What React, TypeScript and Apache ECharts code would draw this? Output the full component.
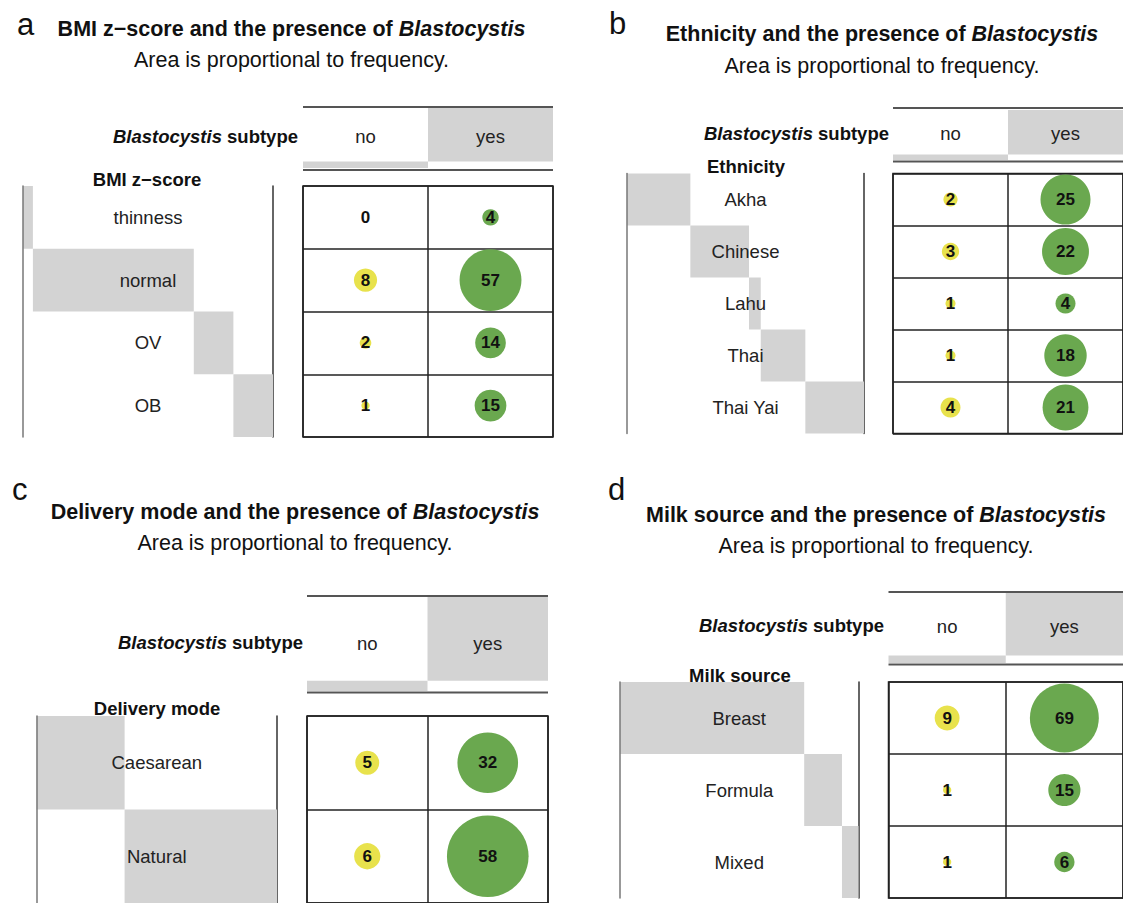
import React, { useEffect, useRef } from "react";
import * as echarts from "echarts";

// ---------------- data ----------------
const COLS = ["no", "yes"];

const bmiRows = ["thinness", "normal", "OV", "OB"];
const bmiNo = [0, 8, 2, 1];
const bmiYes = [4, 57, 14, 15];

const ethRows = ["Akha", "Chinese", "Lahu", "Thai", "Thai Yai"];
const ethNo = [2, 3, 1, 1, 4];
const ethYes = [25, 22, 4, 18, 21];

const delRows = ["Caesarean", "Natural"];
const delNo = [5, 6];
const delYes = [32, 58];

const milkRows = ["Breast", "Formula", "Mixed"];
const milkNo = [9, 1, 1];
const milkYes = [69, 15, 6];

const panelLetters = ["a", "b", "c", "d"];
const rowTitles = ["BMI z\u2212score", "Ethnicity", "Delivery mode", "Milk source"];
const TITLE_TAIL = " and the presence of ";
const ORGANISM = "Blastocystis";
const COL_TITLE_TAIL = " subtype";
const SUBTITLE = "Area is proportional to frequency.";

const PANELS = [
  { rows: bmiRows, no: bmiNo, yes: bmiYes },
  { rows: ethRows, no: ethNo, yes: ethYes },
  { rows: delRows, no: delNo, yes: delYes },
  { rows: milkRows, no: milkNo, yes: milkYes },
];

// ---------------- layout / style ----------------
const FONT = '"Liberation Sans", Arial, Helvetica, sans-serif';
const GRAY = "#d3d3d3";
const YELLOW = "#e8e24c";
const GREEN = "#6aa84f";
const LINE = "#222";

const LAYOUT = [
  {
    letter: [17, 24], title: [291.5, 28.5], sub: 60,
    head: { x0: 303, x1: 553, line0: 107, top: 108, bottom: 168, line1: 170, labelY: 136.5, keyX: 298, keyY: 136 },
    rowTitle: [147, 179.5], rowX: [23, 273], table: { y0: 186, y1: 437 }, k: 4.1,
  },
  {
    letter: [609, 23], title: [882, 34], sub: 66,
    head: { x0: 893, x1: 1132, line0: 108, top: 110, bottom: 160, line1: 161.5, labelY: 133, keyX: 889, keyY: 133 },
    rowTitle: [746, 166], rowX: [627, 864], table: { y0: 173.5, y1: 433.5 }, k: 5.0,
  },
  {
    letter: [12, 489], title: [295, 511.5], sub: 543,
    head: { x0: 307, x1: 548, line0: 596, top: 597, bottom: 691, line1: 692.5, labelY: 643, keyX: 303, keyY: 642.5 },
    rowTitle: [157, 708.5], rowX: [36.5, 277], table: { y0: 716, y1: 907 }, k: 5.36,
  },
  {
    letter: [608, 489], title: [876, 514.5], sub: 546,
    head: { x0: 888.5, x1: 1126.5, line0: 592, top: 593, bottom: 663, line1: 664.5, labelY: 626, keyX: 884, keyY: 625 },
    rowTitle: [740, 675], rowX: [620, 858.5], table: { y0: 682, y1: 898 }, k: 4.15,
  },
];

const sum = (a: number[]) => a.reduce((s, v) => s + v, 0);

function textEl(x: number, y: number, text: string, opts: any = {}) {
  const align = opts.align || "center";
  return {
    type: "text",
    x,
    y,
    z: 100,
    style: {
      text,
      fill: opts.fill || "#111",
      fontSize: opts.fontSize || 18.5,
      fontFamily: FONT,
      fontWeight: opts.fontWeight || "normal",
      fontStyle: opts.fontStyle || "normal",
      textAlign: align,
      textVerticalAlign: "middle",
      rich: opts.rich,
    },
  };
}

function lineEl(x1: number, y1: number, x2: number, y2: number, color: string, w: number) {
  return {
    type: "line",
    z: 50,
    shape: { x1, y1, x2, y2 },
    style: { stroke: color, lineWidth: w },
  };
}

function buildOption() {
  const grid: any[] = [];
  const xAxis: any[] = [];
  const yAxis: any[] = [];
  const series: any[] = [];
  const graphic: any[] = [];

  PANELS.forEach((p, i) => {
    const L = LAYOUT[i];
    const noTot = sum(p.no);
    const yesTot = sum(p.yes);
    const total = noTot + yesTot;
    const rowTot = p.rows.map((_, j) => p.no[j] + p.yes[j]);
    const rowOff: number[] = [];
    rowTot.reduce((acc, v, j) => {
      rowOff[j] = acc;
      return acc + v;
    }, 0);

    // ---- balloon table ----
    const gB = grid.length;
    grid.push({
      left: L.head.x0, top: L.table.y0,
      width: L.head.x1 - L.head.x0, height: L.table.y1 - L.table.y0,
      show: true, borderColor: LINE, borderWidth: 1.5, backgroundColor: "transparent",
    });
    const xB = xAxis.length;
    xAxis.push({
      gridIndex: gB, type: "category", data: COLS, boundaryGap: true,
      axisLine: { show: false }, axisTick: { show: false }, axisLabel: { show: false },
      splitLine: { show: true, interval: 0, lineStyle: { color: LINE, width: 1.5 } },
    });
    const yB = yAxis.length;
    yAxis.push({
      gridIndex: gB, type: "category", data: p.rows, inverse: true, boundaryGap: true,
      axisLine: { show: false }, axisTick: { show: false }, axisLabel: { show: false },
      splitLine: { show: true, interval: 0, lineStyle: { color: LINE, width: 1.5 } },
    });
    const k = L.k;
    const mkScatter = (vals: number[], col: string, color: string) => ({
      type: "scatter",
      xAxisIndex: xB, yAxisIndex: yB,
      data: vals.map((v, j) => [col, p.rows[j], v]),
      symbol: "circle",
      symbolSize: (val: any[]) => Math.max(0.01, 2 * k * Math.sqrt(val[2])),
      itemStyle: { color, opacity: 1 },
      label: {
        show: true, position: "inside",
        formatter: (pp: any) => String(pp.value[2]),
        color: "#111", fontWeight: "bold", fontSize: 17, fontFamily: FONT,
      },
      emphasis: { disabled: true },
      z: 5,
    });
    series.push(mkScatter(p.no, COLS[0], YELLOW));
    series.push(mkScatter(p.yes, COLS[1], GREEN));

    // ---- column header (marginal column totals) ----
    const gH = grid.length;
    grid.push({
      left: L.head.x0, top: L.head.top,
      width: L.head.x1 - L.head.x0, height: L.head.bottom - L.head.top,
    });
    const xH = xAxis.length;
    xAxis.push({
      gridIndex: gH, type: "category", data: COLS, boundaryGap: true, z: 10,
      axisLine: { show: false, onZero: false }, axisTick: { show: false },
      axisLabel: {
        show: true, interval: 0, margin: L.head.labelY - L.head.bottom,
        verticalAlign: "middle", color: "#222", fontSize: 18.5, fontFamily: FONT,
      },
      splitLine: { show: false },
    });
    const yH = yAxis.length;
    yAxis.push({ gridIndex: gH, type: "value", min: 0, max: total, show: false });
    series.push({
      type: "bar", xAxisIndex: xH, yAxisIndex: yH, stack: "col" + i,
      data: [0, noTot], barWidth: "100%", itemStyle: { color: "rgba(0,0,0,0)" }, silent: true,
    });
    series.push({
      type: "bar", xAxisIndex: xH, yAxisIndex: yH, stack: "col" + i,
      data: [noTot, yesTot], barWidth: "100%", itemStyle: { color: GRAY }, silent: true,
    });

    // ---- row header (marginal row totals) ----
    const gR = grid.length;
    const rw = L.rowX[1] - L.rowX[0];
    grid.push({
      left: L.rowX[0], top: L.table.y0, width: rw, height: L.table.y1 - L.table.y0,
    });
    const xR = xAxis.length;
    xAxis.push({ gridIndex: gR, type: "value", min: 0, max: total, show: false });
    const yR = yAxis.length;
    yAxis.push({
      gridIndex: gR, type: "category", data: p.rows, inverse: true, position: "left", z: 10,
      axisLine: { show: true, onZero: false, lineStyle: { color: "#777", width: 1.5 } },
      axisTick: { show: false },
      axisLabel: {
        show: true, interval: 0, margin: -rw / 2, align: "center", verticalAlign: "middle",
        color: "#222", fontSize: 18.5, fontFamily: FONT,
      },
      splitLine: { show: false },
    });
    yAxis.push({
      gridIndex: gR, type: "category", data: p.rows, inverse: true, position: "right",
      axisLine: { show: true, onZero: false, lineStyle: { color: "#333", width: 1.5 } },
      axisTick: { show: false }, axisLabel: { show: false }, splitLine: { show: false },
    });
    series.push({
      type: "bar", xAxisIndex: xR, yAxisIndex: yR, stack: "row" + i,
      data: rowOff, barWidth: "100%", itemStyle: { color: "rgba(0,0,0,0)" }, silent: true,
    });
    series.push({
      type: "bar", xAxisIndex: xR, yAxisIndex: yR, stack: "row" + i,
      data: rowTot, barWidth: "100%", itemStyle: { color: GRAY }, silent: true,
    });

    // ---- texts & rules ----
    graphic.push(textEl(L.letter[0], L.letter[1], panelLetters[i], { align: "left", fontSize: 31 }));
    graphic.push(
      textEl(L.title[0], L.title[1], `{b|${rowTitles[i]}${TITLE_TAIL}}{bi|${ORGANISM}}`, {
        fontSize: 21.5, fontWeight: "bold",
        rich: {
          b: { fontSize: 21.5, fontWeight: "bold", fontFamily: FONT, fill: "#111" },
          bi: { fontSize: 21.5, fontWeight: "bold", fontStyle: "italic", fontFamily: FONT, fill: "#111" },
        },
      })
    );
    graphic.push(textEl(L.title[0], L.sub, SUBTITLE, { fontSize: 21.5 }));
    graphic.push(
      textEl(L.head.keyX, L.head.keyY, `{bi|${ORGANISM}}{b|${COL_TITLE_TAIL}}`, {
        align: "right", fontSize: 18.5, fontWeight: "bold",
        rich: {
          b: { fontSize: 18.5, fontWeight: "bold", fontFamily: FONT, fill: "#111" },
          bi: { fontSize: 18.5, fontWeight: "bold", fontStyle: "italic", fontFamily: FONT, fill: "#111" },
        },
      })
    );
    graphic.push(textEl(L.rowTitle[0], L.rowTitle[1], rowTitles[i], { fontSize: 18.5, fontWeight: "bold" }));
    graphic.push(lineEl(L.head.x0, L.head.line0, L.head.x1, L.head.line0, "#555", 2));
    graphic.push(lineEl(L.head.x0, L.head.line1, L.head.x1, L.head.line1, "#555", 2));
  });

  return {
    animation: false,
    backgroundColor: "#fff",
    grid,
    xAxis,
    yAxis,
    series,
    graphic: { elements: graphic },
  };
}

export default function App() {
  const ref = useRef<HTMLDivElement>(null);
  useEffect(() => {
    if (!ref.current) return;
    const chart = echarts.init(ref.current, undefined, { renderer: "svg" });
    chart.setOption(buildOption() as any);
    return () => chart.dispose();
  }, []);
  return (
    <div
      ref={ref}
      style={{ position: "fixed", left: 0, top: 0, width: 1123, height: 903, background: "#fff" }}
    />
  );
}
